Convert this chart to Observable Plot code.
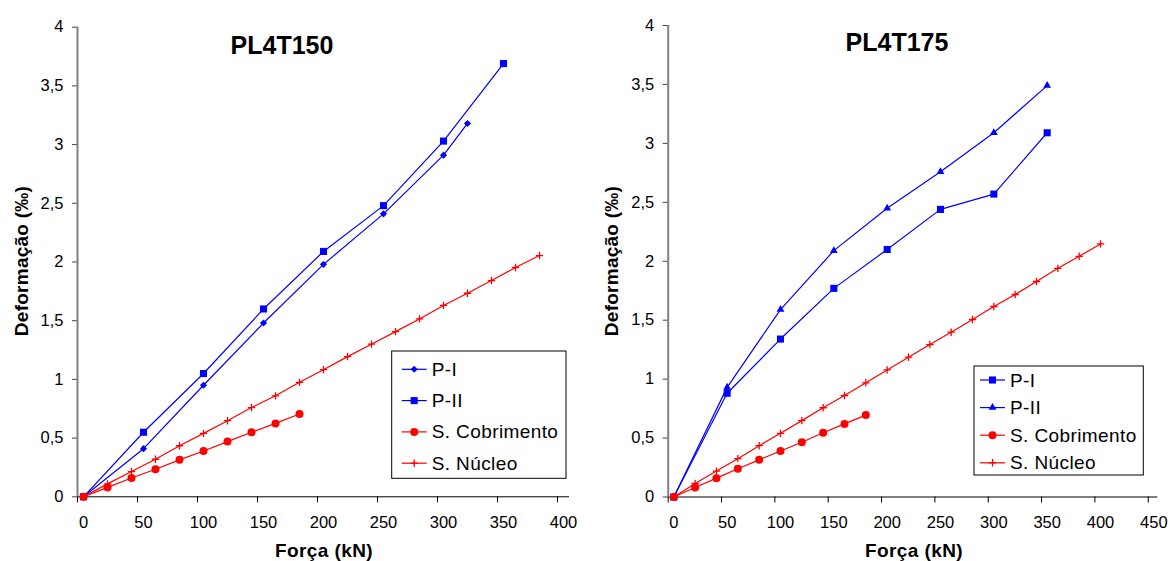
<!DOCTYPE html>
<html><head><meta charset="utf-8">
<script src="https://cdn.jsdelivr.net/npm/d3@7"></script>
<script src="https://cdn.jsdelivr.net/npm/@observablehq/plot@0.6"></script>
<style>
html,body{margin:0;padding:0;background:#fff;}
#root{position:relative;width:1170px;height:561px;overflow:hidden;font-family:"Liberation Sans",Arial,sans-serif;}
#root svg{position:absolute;top:0;}
</style></head><body><div id="root"></div>
<script>
// ---------- DATA ----------
const seriesNames = ["P-I", "P-II", "S. Cobrimento", "S. Núcleo"];
const yTicks = [0, 0.5, 1, 1.5, 2, 2.5, 3, 3.5, 4];
const xTicks150 = [0, 50, 100, 150, 200, 250, 300, 350, 400];
const xTicks175 = [0, 50, 100, 150, 200, 250, 300, 350, 400, 450];

// PL4T150
const forcaPI_150 = [0, 50, 100, 150, 200, 250, 300, 320];
const defPI_150   = [0, 0.41, 0.95, 1.48, 1.98, 2.41, 2.91, 3.18];
const forcaPII_150 = [0, 50, 100, 150, 200, 250, 300, 350];
const defPII_150   = [0, 0.55, 1.05, 1.60, 2.09, 2.48, 3.03, 3.69];
const forcaCob_150 = [0, 20, 40, 60, 80, 100, 120, 140, 160, 180];
const defCob_150   = [0, 0.08, 0.16, 0.235, 0.315, 0.39, 0.47, 0.55, 0.625, 0.705];
const forcaNuc_150 = [0, 20, 40, 60, 80, 100, 120, 140, 160, 180, 200, 220, 240, 260, 280, 300, 320, 340, 360, 380];
const defNuc_150   = [0, 0.11, 0.215, 0.32, 0.435, 0.54, 0.648, 0.76, 0.86, 0.975, 1.083, 1.194, 1.30, 1.407, 1.515, 1.63, 1.734, 1.842, 1.953, 2.055];

// PL4T175
const forcaPI_175 = [0, 50, 100, 150, 200, 250, 300, 350];
const defPI_175   = [0, 0.88, 1.34, 1.77, 2.10, 2.44, 2.57, 3.09];
const forcaPII_175 = [0, 50, 100, 150, 200, 250, 300, 350];
const defPII_175   = [0, 0.93, 1.59, 2.09, 2.45, 2.76, 3.09, 3.49];
const forcaCob_175 = [0, 20, 40, 60, 80, 100, 120, 140, 160, 180];
const defCob_175   = [0, 0.08, 0.16, 0.24, 0.315, 0.39, 0.465, 0.545, 0.62, 0.695];
const forcaNuc_175 = [0, 20, 40, 60, 80, 100, 120, 140, 160, 180, 200, 220, 240, 260, 280, 300, 320, 340, 360, 380, 400];
const defNuc_175   = [0, 0.115, 0.22, 0.325, 0.435, 0.54, 0.648, 0.757, 0.861, 0.969, 1.078, 1.186, 1.293, 1.398, 1.506, 1.616, 1.718, 1.828, 1.94, 2.042, 2.147];

// ---------- STYLE ----------
const BLUE = "#0000FF", RED = "#FF0000";
const FONT = '"Liberation Sans", Arial, sans-serif';
const zip = (xs, ys) => xs.map((x, i) => ({x, y: ys[i]}));
const fmt = d => String(d).replace(".", ",");

const styles150 = [
  {name: seriesNames[0], color: BLUE, symbol: "diamond2", r: 3.2, stroke: false},
  {name: seriesNames[1], color: BLUE, symbol: "square", r: 4, stroke: false},
  {name: seriesNames[2], color: RED, symbol: "circle", r: 4, stroke: false},
  {name: seriesNames[3], color: RED, symbol: "plus", r: 2.5, stroke: true}
];
const styles175 = [
  {name: seriesNames[0], color: BLUE, symbol: "square", r: 4, stroke: false},
  {name: seriesNames[1], color: BLUE, symbol: "triangle", r: 2.9, stroke: false},
  {name: seriesNames[2], color: RED, symbol: "circle", r: 4, stroke: false},
  {name: seriesNames[3], color: RED, symbol: "plus", r: 2.5, stroke: true}
];

function chart(cfg) {
  const marks = [
    Plot.ruleY([0], {stroke: "#000", strokeWidth: 1}),
    Plot.axisY({ticks: yTicks, tickSize: 5, tickPadding: 9, tickFormat: fmt, label: null, stroke: "#444", fill: "#000"}),
    Plot.axisX({ticks: cfg.xTicks, tickSize: 6, tickFormat: () => "", label: null, dx: cfg.tickShift}),
    Plot.axisX({ticks: cfg.xTicks, tickSize: 0, tickPadding: 19, tickFormat: d => String(d), label: null, fill: "#000"}),
    Plot.ruleX([cfg.xDomain[0]], {stroke: "#808080", strokeWidth: 2})
  ];
  cfg.series.forEach((s, i) => {
    const st = cfg.styles[i];
    const data = zip(s[0], s[1]);
    marks.push(Plot.line(data, {x: "x", y: "y", stroke: st.color, strokeWidth: 1.2}));
    if (st.stroke) {
      marks.push(Plot.dot(data, {x: "x", y: "y", symbol: st.symbol, r: st.r, stroke: st.color, fill: "none", strokeWidth: 1.3}));
    } else {
      marks.push(Plot.dot(data, {x: "x", y: "y", symbol: st.symbol, r: st.r, fill: st.color, stroke: "none"}));
    }
  });
  const svg = Plot.plot({
    width: 585, height: 561,
    marginLeft: cfg.ml, marginRight: cfg.mr, marginTop: cfg.mt, marginBottom: cfg.mb,
    x: {domain: cfg.xDomain},
    y: {domain: [0, 4]},
    style: {fontFamily: FONT, fontSize: "16.5px", color: "#000", background: "transparent", overflow: "visible"},
    marks
  });
  svg.style.left = cfg.left + "px";
  return svg;
}

const root = document.getElementById("root");
root.appendChild(chart({
  left: 0, ml: 77, mr: 16, mt: 26.7, mb: 64.7, xDomain: [-5, 405], xTicks: xTicks150, tickShift: -6,
  styles: styles150,
  series: [[forcaPI_150, defPI_150], [forcaPII_150, defPII_150], [forcaCob_150, defCob_150], [forcaNuc_150, defNuc_150]]
}));
root.appendChild(chart({
  left: 585, ml: 82.7, mr: 12.7, mt: 25, mb: 64.5, xDomain: [-5.25, 453.7], xTicks: xTicks175, tickShift: -5.6,
  styles: styles175,
  series: [[forcaPI_175, defPI_175], [forcaPII_175, defPII_175], [forcaCob_175, defCob_175], [forcaNuc_175, defNuc_175]]
}));

// ---------- overlay: titles, axis labels, legends ----------
const ov = d3.select(root).append("svg")
  .attr("width", 1170).attr("height", 561)
  .style("left", "0px").style("pointer-events", "none")
  .style("font-family", FONT);

function titles(cx, by, title, xlabCx, ylabX) {
  ov.append("text").attr("x", cx).attr("y", by).attr("text-anchor", "middle")
    .attr("font-size", 25).attr("font-weight", "bold").text(title);
  ov.append("text").attr("x", xlabCx).attr("y", 557).attr("text-anchor", "middle")
    .attr("font-size", 19).attr("font-weight", "bold").attr("letter-spacing", 0.4).text("Força (kN)");
  ov.append("text").attr("transform", `translate(${ylabX},261) rotate(-90)`).attr("text-anchor", "middle")
    .attr("font-size", 19).attr("font-weight", "bold").attr("letter-spacing", 0.25).text("Deformação (‰)");
}
titles(282, 54, "PL4T150", 324, 27.5);
titles(897, 50.5, "PL4T175", 914, 617.5);

const symTypes = {square: d3.symbolSquare, circle: d3.symbolCircle, plus: d3.symbolPlus, triangle: d3.symbolTriangle, diamond2: d3.symbolDiamond2};

function legend(x, y, w, h, first, step, lx0, lx1, tx, styles) {
  const g = ov.append("g");
  g.append("rect").attr("x", x).attr("y", y).attr("width", w).attr("height", h)
    .attr("fill", "#fff").attr("stroke", "#000").attr("stroke-width", 1);
  styles.forEach((st, i) => {
    const cy = first + i * step;
    g.append("line").attr("x1", lx0).attr("x2", lx1).attr("y1", cy).attr("y2", cy)
      .attr("stroke", st.color).attr("stroke-width", 1.2);
    const p = g.append("path").attr("transform", `translate(${(lx0 + lx1) / 2},${cy})`)
      .attr("d", d3.symbol(symTypes[st.symbol], st.r * st.r * Math.PI)());
    if (st.stroke) p.attr("fill", "none").attr("stroke", st.color).attr("stroke-width", 1.3);
    else p.attr("fill", st.color);
    g.append("text").attr("x", tx).attr("y", cy + 6.5).attr("font-size", 19)
      .attr("letter-spacing", 0.4).text(st.name);
  });
}
legend(391.7, 351, 174.3, 127.3, 369.3, 31.3, 401.7, 426.7, 431.7, styles150);
legend(974, 366, 169.3, 109, 380, 27.6, 980, 1005, 1010, styles175);
</script>
</body></html>
